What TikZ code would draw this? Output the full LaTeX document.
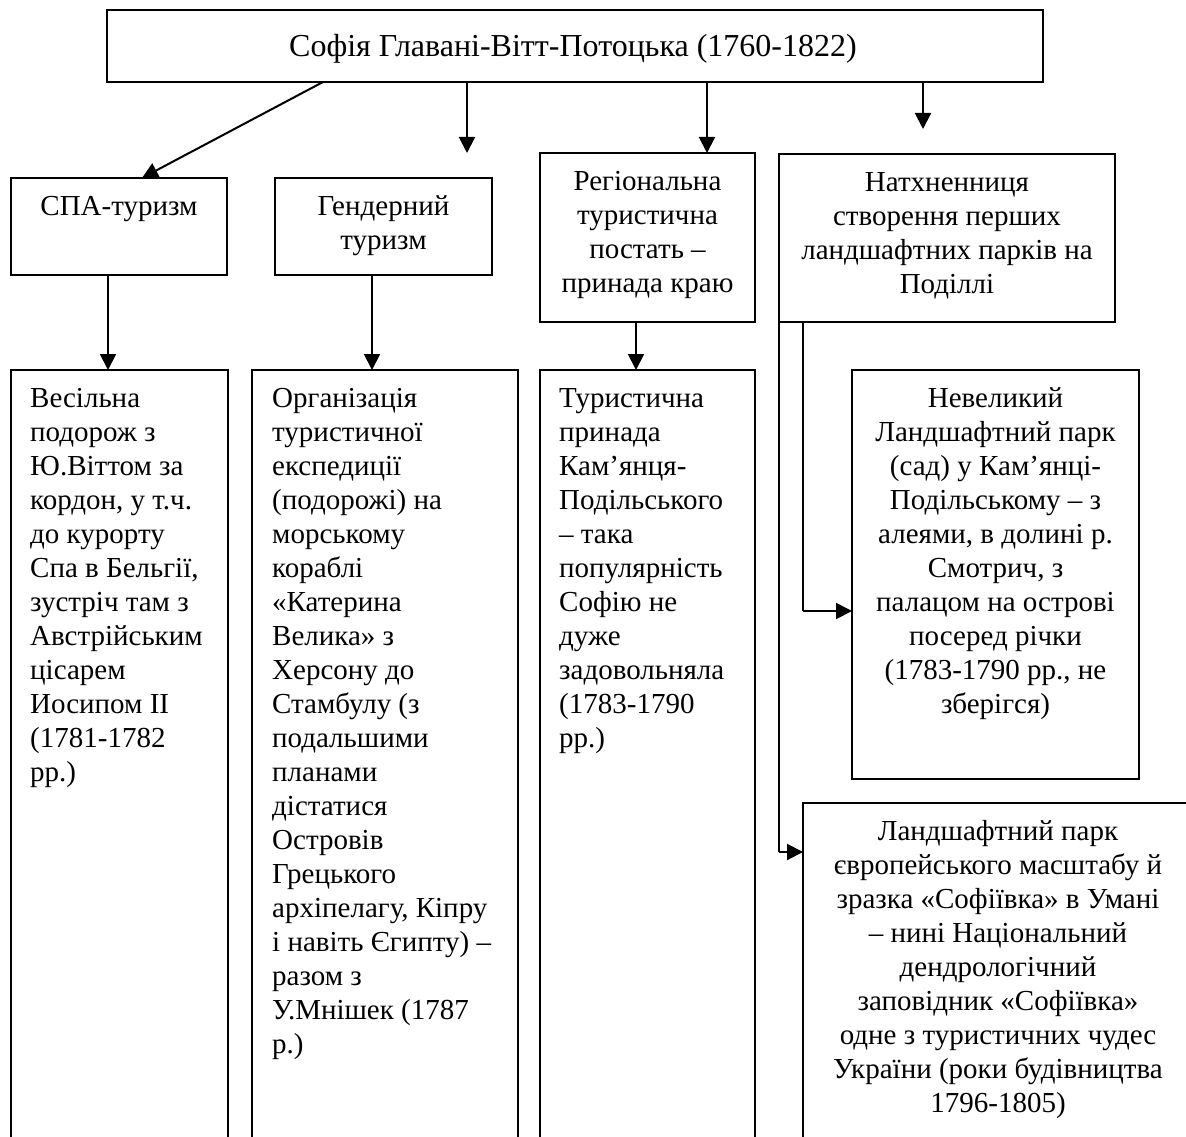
\documentclass[tikz,border=0pt]{standalone}
\usepackage{fontspec}
\setmainfont{Liberation Serif}
\usetikzlibrary{arrows.meta,calc}
\begin{document}
\begin{tikzpicture}[x=1pt,y=1pt,
  box/.style={draw, line width=1.5pt, rectangle, inner sep=0pt, outer sep=0pt, anchor=north west},
  lbl/.style={inner sep=0pt, font=\fontsize{29}{34}\selectfont},
  ctext/.style={lbl, anchor=north, align=center},
  ltext/.style={lbl, anchor=north west, align=left},
  arr/.style={line width=2pt, -{Triangle[width=16pt,length=16pt]}},
  conn/.style={line width=1.5pt}
]
\useasboundingbox (0,0) rectangle (1186,-1137);
\fill[white] (0,0) rectangle (1186,-1137);
\clip (0,0) rectangle (1186,-1137);

% boxes
\node[box, minimum width=936, minimum height=72] (top) at (107,-10) {};
\node[box, minimum width=216, minimum height=97] (spa) at (11,-178) {};
\node[box, minimum width=217, minimum height=97] (gen) at (275,-178) {};
\node[box, minimum width=215, minimum height=169] (reg) at (540,-153) {};
\node[box, minimum width=336, minimum height=168] (nat) at (779,-154) {};
\node[box, minimum width=217, minimum height=800] (ves) at (11,-370) {};
\node[box, minimum width=266, minimum height=800] (org) at (252,-370) {};
\node[box, minimum width=215, minimum height=800] (tur) at (540,-370) {};
\node[box, minimum width=287, minimum height=409] (nev) at (852,-370) {};
\node[box, minimum width=390, minimum height=400] (lan) at (803,-803) {};

% texts
\node[inner sep=0pt, font=\fontsize{32}{36}\selectfont, anchor=base] (ttop) at (573,-57) {Софія Главані-Вітт-Потоцька (1760-1822)};
\node[ctext] (tspa) at ($(spa.north)+(0,-13)$) {\strut СПА-туризм};
\node[ctext] (tgen) at ($(gen.north)+(0,-13)$) {\strut Гендерний\\туризм};
\node[ctext] (treg) at ($(reg.north)+(0,-13)$) {\strut Регіональна\\туристична\\постать –\\принада краю};
\node[ctext] (tnat) at ($(nat.north)+(0,-13)$) {\strut Натхненниця\\створення перших\\ландшафтних парків на\\Поділлі};
\node[ltext] (tves) at ($(ves.north west)+(19,-13)$) {\strut Весільна\\подорож з\\Ю.Віттом за\\кордон, у т.ч.\\до курорту\\Спа в Бельгії,\\зустріч там з\\Австрійським\\цісарем\\Иосипом II\\(1781-1782\\рр.)};
\node[ltext] (torg) at ($(org.north west)+(20,-13)$) {\strut Організація\\туристичної\\експедиції\\(подорожі) на\\морському\\кораблі\\«Катерина\\Велика» з\\Херсону до\\Стамбулу (з\\подальшими\\планами\\дістатися\\Островів\\Грецького\\архіпелагу, Кіпру\\і навіть Єгипту) –\\разом з\\У.Мнішек (1787\\р.)};
\node[ltext] (ttur) at ($(tur.north west)+(19,-13)$) {\strut Туристична\\принада\\Кам’янця-\\Подільського\\– така\\популярність\\Софію не\\дуже\\задовольняла\\(1783-1790\\рр.)};
\node[ctext] (tnev) at ($(nev.north)+(0,-13)$) {\strut Невеликий\\Ландшафтний парк\\(сад) у Кам’янці-\\Подільському – з\\алеями, в долині р.\\Смотрич, з\\палацом на острові\\посеред річки\\(1783-1790 рр., не\\зберігся)};
\node[ctext] (tlan) at ($(lan.north)+(0,-13)$) {\strut Ландшафтний парк\\європейського масштабу й\\зразка «Софіївка» в Умані\\– нині Національний\\дендрологічний\\заповідник «Софіївка»\\одне з туристичних чудес\\України (роки будівництва\\1796-1805)};

% connectors
\coordinate (c1) at (323,0);
\coordinate (c1e) at (142,0);
\coordinate (f2) at (467,-153);
\coordinate (c3) at (707,0);
\coordinate (f4) at (923,-129);
\coordinate (c5) at (108,0);
\coordinate (c6) at (372,0);
\coordinate (c7) at (636,0);
\coordinate (c8) at (779,-852);
\coordinate (c9) at (803,-611);

\draw[arr] (top.south -| c1) -- (spa.north -| c1e);
\draw[arr] (top.south -| f2) -- (f2);
\draw[arr] (top.south -| c3) -- (reg.north -| c3);
\draw[arr] (top.south -| f4) -- (f4);
\draw[arr] (spa.south -| c5) -- (ves.north -| c5);
\draw[arr] (gen.south -| c6) -- (org.north -| c6);
\draw[arr] (reg.south -| c7) -- (tur.north -| c7);
\draw[conn] (nat.south west) -- (c8);
\draw[arr] (c8) -- (lan.west |- c8);
\draw[conn] (nat.south -| c9) -- (c9);
\draw[arr] (c9) -- (nev.west |- c9);
\end{tikzpicture}
\end{document}
